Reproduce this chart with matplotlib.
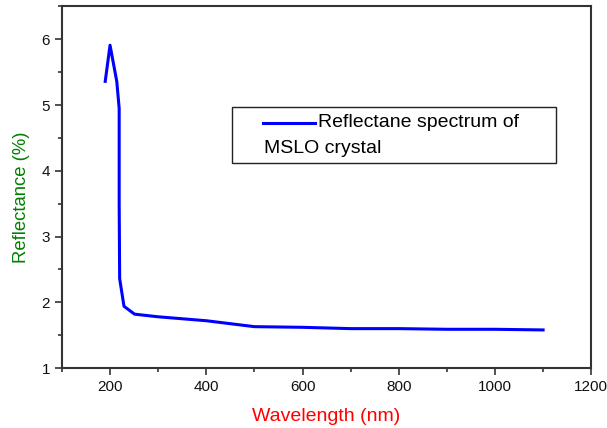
import matplotlib.pyplot as plt
from matplotlib.patches import Rectangle
from matplotlib.ticker import MultipleLocator

plt.rcParams['font.family'] = ['Liberation Sans', 'DejaVu Sans']

wavelength = [190, 200, 214, 219, 219, 220, 229, 251, 300, 400, 500, 600, 700, 800, 900, 1000, 1100]
reflectance = [5.36, 5.91, 5.36, 4.95, 3.5, 2.36, 1.94, 1.82, 1.78, 1.72, 1.63, 1.62, 1.60, 1.60, 1.59, 1.59, 1.58]
legend_text = 'Reflectane spectrum of'
legend_text2 = 'MSLO crystal'

fig = plt.figure(figsize=(6.07, 4.28), dpi=100)
ax = fig.add_axes([0.102, 0.140, 0.872, 0.845])

ax.plot(wavelength, reflectance, color='#0000ff', lw=2.2)

ax.set_xlim(100, 1200)
ax.set_ylim(1, 6.5)
ax.xaxis.set_major_locator(MultipleLocator(200))
ax.xaxis.set_minor_locator(MultipleLocator(100))
ax.yaxis.set_major_locator(MultipleLocator(1))
ax.yaxis.set_minor_locator(MultipleLocator(0.5))
ax.tick_params(which='major', direction='out', length=5, width=1.2, labelsize=11,
               color='#333333', labelcolor='#111111')
ax.tick_params(which='minor', direction='out', length=3, width=1.2, color='#333333')
for s in ax.spines.values():
    s.set_linewidth(1.5)
    s.set_color('#333333')

ax.set_xlabel('Wavelength (nm)', color='#ff0000', fontsize=14, labelpad=10)
ax.set_ylabel('Reflectance (%)', color='#008000', fontsize=13.3, va='center')
ax.yaxis.set_label_coords(-0.077, 0.473)

# legend box drawn by hand (text wraps under the handle)
ax.add_patch(Rectangle((0.321, 0.566), 0.613, 0.156, transform=ax.transAxes,
                       fill=False, lw=1.0, ec='#222222'))
ax.plot([0.380, 0.478], [0.679, 0.679], transform=ax.transAxes, color='#0000ff', lw=2.2)
ax.text(0.484, 0.679, legend_text, transform=ax.transAxes, fontsize=14, va='center')
ax.text(0.382, 0.606, legend_text2, transform=ax.transAxes, fontsize=14, va='center')

fig.savefig('out.png', dpi=100)
